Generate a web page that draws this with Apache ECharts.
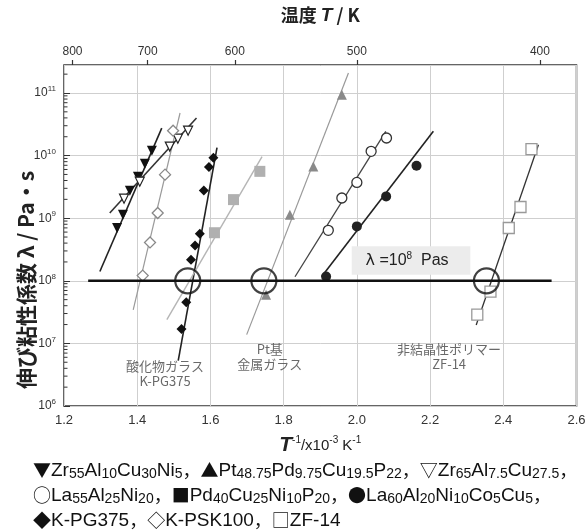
<!DOCTYPE html>
<html><head><meta charset="utf-8">
<script src="https://cdn.jsdelivr.net/npm/echarts@6/dist/echarts.min.js"></script>
<style>html,body{margin:0;padding:0;background:#fff}#c{width:587px;height:531px}</style>
</head><body><div id="c"></div>
<script>
// ---- axis ticks ----
const xMin = 1.2, xMax = 2.6, xStep = 0.2;
const yMin = 1e6, yMax = 2.8e11;
const topTickVals = [1.2233, 1000/700, 1000/600, 1000/500, 1000/400];
const topTickLabels = ['800', '700', '600', '500', '400'];
const yTitle = '伸び粘性係数 λ / Pa・s';

// ---- measured points [1000/T, viscosity Pa s] ----
const zr55Pts = [[1.345,7.0e8],[1.361,1.14e9],[1.380,2.75e9],[1.402,4.6e9],[1.421,7.4e9],[1.440,1.2e10]];
const zr65Pts = [[1.364,2.05e9],[1.407,3.83e9],[1.489,1.39e10],[1.511,1.86e10],[1.539,2.5e10]];
const kpskPts = [[1.415,1.21e8],[1.435,4.1e8],[1.456,1.21e9],[1.476,4.96e9],[1.498,2.5e10]];
const kpgPts  = [[1.521,1.70e7],[1.534,4.55e7],[1.547,2.17e8],[1.558,3.67e8],[1.571,5.65e8],[1.582,2.78e9],[1.596,6.58e9],[1.608,9.2e9]];
const pdPts   = [[1.611,5.86e8],[1.663,1.98e9],[1.735,5.6e9]];
const ptPts   = [[1.752,6.0e7],[1.817,1.14e9],[1.881,6.7e9],[1.959,9.4e10]];
const la55Pts = [[1.922,6.4e8],[1.959,2.1e9],[2.000,3.73e9],[2.039,1.17e10],[2.081,1.91e10]];
const la60Pts = [[1.916,1.17e8],[2.000,7.4e8],[2.080,2.23e9],[2.163,6.9e9]];
const zf14Pts = [[2.329,2.88e7],[2.365,6.7e7],[2.415,6.97e8],[2.447,1.51e9],[2.477,1.27e10]];

// ---- fitted lines (end points) ----
const zr55Fit = [[1.298,1.41e8],[1.467,2.75e10]];
const zr65Fit = [[1.325,1.21e9],[1.562,3.98e10]];
const kpskFit = [[1.389,3.44e7],[1.517,4.79e10]];
const kpgFit  = [[1.512,5.3e6],[1.618,1.34e10]];
const pdFit   = [[1.481,2.39e7],[1.741,9.6e9]];
const ptFit   = [[1.699,1.38e7],[1.977,2.08e11]];
const la55Fit = [[1.831,1.16e8],[2.079,2.44e10]];
const la60Fit = [[1.904,1.17e8],[2.209,2.44e10]];
const zf14Fit = [[2.326,1.97e7],[2.496,1.49e10]];

// ---- reference line lambda = 1e8 ----
const refLevel = 1e8;
const refLine = [[1.266,1e8],[2.532,1e8]];
const circleXs = [1.538, 1.746, 2.354];
const boxCorners = [[1.986,3.55e8],[2.31,1.25e8]];

// ---- annotations ----
const notes = [
  {pos:[1.476,3.3e6], text:'酸化物ガラス\nK-PG375'},
  {pos:[1.762,6.2e6], text:'Pt基\n金属ガラス'},
  {pos:[2.252,6.2e6], text:'非結晶性ポリマー\nZF-14'}
];

// ---- legend ----
const legendRows = [
  [{m:'▼',f:'Zr55Al10Cu30Ni5',chem:true},{m:'▲',f:'Pt48.75Pd9.75Cu19.5P22',chem:true},{m:'▽',f:'Zr65Al7.5Cu27.5',chem:true}],
  [{m:'○',f:'La55Al25Ni20',chem:true},{m:'■',f:'Pd40Cu25Ni10P20',chem:true},{m:'●',f:'La60Al20Ni10Co5Cu5',chem:true}],
  [{m:'◆',f:'K-PG375',chem:false},{m:'◇',f:'K-PSK100',chem:false},{m:'□',f:'ZF-14',chem:false}]
];

// minor log ticks
const minorVals = [];
for (let d = 6; d <= 11; d++) for (let k = 2; k <= 9; k++) { const v = k * Math.pow(10, d); if (v < yMax) minorVals.push([xMin, v]); }

function fmtEntry(e) {
  let s = '{m|' + e.m + '}';
  if (e.chem) {
    e.f.replace(/([A-Z][a-z]?)([\d.]+)/g, (_, el, num) => { s += '{n|' + el + '}{s|' + num + '}'; return ''; });
  } else s += '{n|' + e.f + '}';
  return s;
}
const legendTexts = legendRows.map((row, i) => row.map(fmtEntry).join('{c|，}') + (i < 2 ? '{c|，}' : ''));

function fit(data, color, width) {
  return {type:'line', data, symbol:'none', lineStyle:{color, width}, silent:true, z:2};
}
function pts(data, symbol, size, fill, stroke, bw, rot) {
  return {type:'scatter', data, symbol, symbolSize:size, symbolRotate:rot||0,
    itemStyle:{color:fill, borderColor:stroke, borderWidth:bw, opacity:1}, z:3, silent:true};
}

const chart = echarts.init(document.getElementById('c'), null, {renderer:'canvas'});
const labelColor = '#333';
const legendGraphics = legendTexts.map((t, i) => ({
  type:'text', left:33, top:461 + i*25, silent:true,
  style:{text:t, rich:{
    m:{fontSize:18, fill:'#111', fontFamily:'Noto Sans CJK JP'},
    c:{fontSize:18, fill:'#111', fontFamily:'Noto Sans CJK JP'},
    n:{fontSize:19, fill:'#111', fontFamily:'Liberation Sans'},
    s:{fontSize:14, fill:'#111', fontFamily:'Liberation Sans', padding:[7,0,0,0]}
  }}
}));
chart.setOption({
  animation:false,
  backgroundColor:'#fff',
  grid:{left:64, right:10.5, top:65, bottom:125, show:true, borderColor:'#333', borderWidth:1.5, backgroundColor:'transparent',
    containLabel:false, outerBoundsMode:'none'},
  xAxis:[{
    type:'value', min:xMin, max:xMax, interval:xStep, position:'bottom',
    axisLine:{show:false}, axisTick:{show:false},
    axisLabel:{color:labelColor, fontSize:13, fontFamily:'Liberation Sans', margin:8, formatter:v=>v.toFixed(1)},
    splitLine:{show:true, lineStyle:{color:'#cfcfcf', width:1}},
    name:'{i|T}{sup|-1}{n|/x10}{sup|-3}{n| K}{sup|-1}', nameLocation:'middle', nameGap:29, nameMoveOverlap:false,
    nameTextStyle:{rich:{
      i:{fontSize:21, fontStyle:'italic', fontWeight:'bold', color:'#222', fontFamily:'Liberation Sans'},
      n:{fontSize:15, color:'#222', fontFamily:'Liberation Sans'},
      sup:{fontSize:10, color:'#222', fontFamily:'Liberation Sans', padding:[0,0,10,0]}
    }}
  },{
    type:'value', min:xMin, max:xMax, position:'top',
    axisLine:{show:false},
    axisTick:{show:true, inside:false, length:5, customValues:topTickVals, lineStyle:{color:'#333', width:1.2}},
    axisLabel:{color:labelColor, fontSize:12, fontFamily:'Liberation Sans', margin:7, customValues:topTickVals,
      formatter:v=>{ let b=0, bd=1e9; topTickVals.forEach((t,i)=>{const d=Math.abs(t-v); if(d<bd){bd=d;b=i;}}); return topTickLabels[b]; }},
    splitLine:{show:false},
    name:'{n|温度 }{i|T}{n| / K}', nameLocation:'middle', nameGap:40, nameMoveOverlap:false,
    nameTextStyle:{rich:{
      n:{fontSize:18, fontWeight:'bold', color:'#222', fontFamily:'Noto Sans CJK JP'},
      i:{fontSize:19, fontStyle:'italic', fontWeight:'bold', color:'#222', fontFamily:'Liberation Sans'}
    }}
  }],
  yAxis:[{
    type:'log', logBase:10, min:yMin, max:yMax,
    axisLine:{show:false},
    axisTick:{show:true, inside:true, length:6, lineStyle:{color:'#333', width:1}},
    axisLabel:{showMaxLabel:false, margin:8, formatter:v=>'{b|10}{s|'+Math.round(Math.log10(v))+'}',
      rich:{b:{fontSize:12, color:labelColor, fontFamily:'Liberation Sans'}, s:{fontSize:8, color:labelColor, fontFamily:'Liberation Sans', padding:[0,0,8,0]}}},
    splitLine:{show:true, lineStyle:{color:'#cfcfcf', width:1}}
  }],
  series:[
    {type:'custom', data:minorVals, silent:true, z:4, clip:false,
      renderItem:(params, api)=>{ const p = api.coord([api.value(0), api.value(1)]);
        return {type:'line', shape:{x1:p[0], y1:p[1], x2:p[0]+3.5, y2:p[1]}, style:{stroke:'#333', lineWidth:1}}; }},
    fit(zr55Fit, '#222', 1.6),
    fit(zr65Fit, '#333', 1.6),
    fit(kpskFit, '#9a9a9a', 1.2),
    fit(kpgFit, '#222', 1.6),
    fit(pdFit, '#b5b5b5', 1.4),
    fit(ptFit, '#999', 1.2),
    fit(la55Fit, '#444', 1.3),
    fit(la60Fit, '#222', 1.6),
    fit(zf14Fit, '#333', 1.3),
    {type:'line', data:refLine, symbol:'none', lineStyle:{color:'#111', width:2.6}, silent:true, z:5,
      markArea:{silent:true, itemStyle:{color:'#ececec'},
        label:{show:true, position:'inside', offset:[-4,0], formatter:'{l|λ}{n| =10}{s|8}{n|  Pas}',
          rich:{l:{fontSize:16, color:'#222', fontFamily:'DejaVu Sans'}, n:{fontSize:16, color:'#222', fontFamily:'Liberation Sans'},
                s:{fontSize:10, color:'#222', fontFamily:'Liberation Sans', padding:[0,0,9,0]}}},
        data:[[{coord:boxCorners[0]},{coord:boxCorners[1]}]]}},
    pts(zr55Pts, 'triangle', 10, '#111', '#111', 0, 180),
    pts(zr65Pts, 'triangle', 9, '#fff', '#222', 1.2, 180),
    pts(kpskPts, 'diamond', 11, '#fff', '#888', 1.3),
    pts(kpgPts, 'diamond', 10, '#111', '#111', 0),
    pts(pdPts, 'rect', 11, '#b0b0b0', '#b0b0b0', 0),
    pts(ptPts, 'triangle', 10, '#8a8a8a', '#8a8a8a', 0),
    pts(la55Pts, 'circle', 10, '#fff', '#333', 1.3),
    pts(la60Pts, 'circle', 10, '#222', '#222', 0),
    pts(zf14Pts, 'rect', 11, '#fff', '#999', 1.3),
    {type:'scatter', data:circleXs.map(x=>[x, refLevel]), symbol:'circle', symbolSize:25, silent:true, z:6,
      itemStyle:{color:'rgba(0,0,0,0)', borderColor:'#111', borderWidth:2.2}},
    {type:'scatter', data:notes.map(n=>({value:n.pos, name:n.text})), symbolSize:0, silent:true, z:6,
      label:{show:true, position:'inside', formatter:p=>p.name, fontSize:13, lineHeight:15, color:'#444', fontFamily:'Noto Sans CJK JP'}}
  ],
  graphic: legendGraphics.concat([{
    type:'text', x:26, y:280, rotation:Math.PI/2, silent:true,
    style:{text:yTitle, align:'center', verticalAlign:'middle', fill:'#222',
      font:'bold 21px "Noto Sans CJK JP"'}
  }])
});
</script></body></html>
